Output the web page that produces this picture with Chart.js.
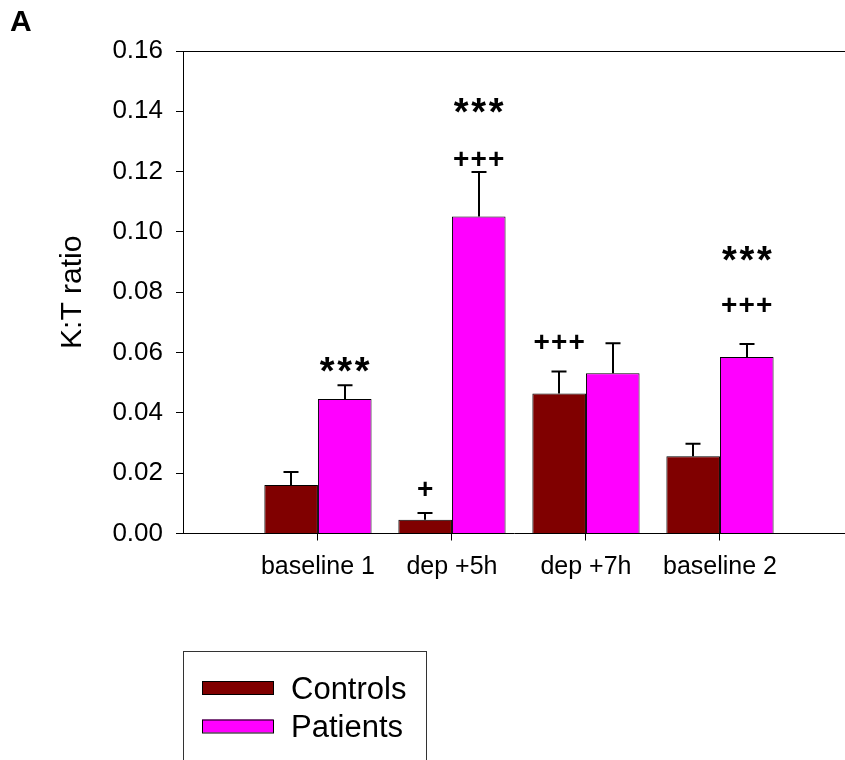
<!DOCTYPE html>
<html>
<head>
<meta charset="utf-8">
<script src="https://cdn.jsdelivr.net/npm/chart.js@4.4.1/dist/chart.umd.min.js"></script>
<style>
  html, body { margin: 0; padding: 0; background: #fff; }
  #wrap { width: 845px; height: 760px; position: relative; }
</style>
</head>
<body>
<div id="wrap"><canvas id="c" width="845" height="760"></canvas></div>
<script>
// ---- data ----
const categories = ['baseline 1', 'dep +5h', 'dep +7h', 'baseline 2'];
const seriesNames = ['Controls', 'Patients'];
const controls    = [0.0161, 0.0046, 0.0464, 0.0256];
const controlsErr = [0.0043, 0.0022, 0.0073, 0.0042];
const patients    = [0.0446, 0.1051, 0.0531, 0.0585];
const patientsErr = [0.0046, 0.0148, 0.0100, 0.0043];
const yTicks = [0, 0.02, 0.04, 0.06, 0.08, 0.10, 0.12, 0.14, 0.16];
// significance marks (text, and the value level where each sits)
const controlsMarks  = [[], ['+'], ['+++'], []];
const controlsMarkY  = [[], [0.0148], [0.0638], []];
const patientsMarks  = [['***'], ['+++', '***'], [], ['+++', '***']];
const patientsMarkY  = [[0.0559], [0.1242, 0.1420], [], [0.0761, 0.0929]];

const FONT = '"Liberation Sans", Arial, Helvetica, sans-serif';
const C_CTRL = '#800000';
const C_PAT = '#FF00FF';

const errs = [controlsErr, patientsErr];
const marks = [controlsMarks, patientsMarks];
const markY = [controlsMarkY, patientsMarkY];

const extrasPlugin = {
  id: 'extras',
  afterDatasetsDraw(chart) {
    const ctx = chart.ctx;
    const y = chart.scales.y;
    const area = chart.chartArea;
    ctx.save();
    // top frame line
    ctx.strokeStyle = '#000';
    ctx.lineWidth = 1;
    ctx.beginPath();
    ctx.moveTo(area.left, Math.round(area.top) + 0.5);
    ctx.lineTo(area.right, Math.round(area.top) + 0.5);
    ctx.stroke();
    // error bars (upper only)
    ctx.lineWidth = 2;
    chart.data.datasets.forEach((ds, d) => {
      const meta = chart.getDatasetMeta(d);
      meta.data.forEach((bar, i) => {
        const v = ds.data[i].y;
        const top = y.getPixelForValue(v + errs[d][i]);
        const x = Math.round(bar.x);
        ctx.beginPath();
        ctx.moveTo(x, bar.y);
        ctx.lineTo(x, top);
        ctx.moveTo(x - 7.5, top);
        ctx.lineTo(x + 7.5, top);
        ctx.stroke();
      });
    });
    // significance marks
    ctx.fillStyle = '#000';
    ctx.textAlign = 'center';
    ctx.textBaseline = 'alphabetic';
    chart.data.datasets.forEach((ds, d) => {
      const meta = chart.getDatasetMeta(d);
      meta.data.forEach((bar, i) => {
        marks[d][i].forEach((txt, k) => {
          const yc = y.getPixelForValue(markY[d][i][k]);
          const isStar = txt[0] === '*';
          ctx.font = 'bold ' + (isStar ? 38 : 28) + 'px ' + FONT;
          const m = ctx.measureText(txt[0]);
          const yb = yc + (m.actualBoundingBoxAscent - m.actualBoundingBoxDescent) / 2;
          const step = 17.5;
          const n = txt.length;
          for (let j = 0; j < n; j++) {
            const cx = bar.x + (j - (n - 1) / 2) * step;
            ctx.fillText(txt[j], cx, yb);
          }
        });
      });
    });
    ctx.restore();
  },
  afterDraw(chart) {
    const ctx = chart.ctx;
    ctx.save();
    // panel letter
    ctx.fillStyle = '#000';
    ctx.font = 'bold 30px ' + FONT;
    ctx.textAlign = 'left';
    ctx.textBaseline = 'alphabetic';
    ctx.fillText('A', 10, 31);
    // legend box
    ctx.strokeStyle = '#333';
    ctx.lineWidth = 1;
    ctx.strokeRect(183.5, 651.5, 243, 200);
    chart.data.datasets.forEach((ds, d) => {
      const top = 681 + d * 38.5;
      ctx.fillStyle = ds.backgroundColor;
      ctx.fillRect(202, top, 71, 13);
      ctx.strokeStyle = '#000';
      ctx.strokeRect(202.5, top + 0.5, 71, 13);
      ctx.fillStyle = '#000';
      ctx.font = '31px ' + FONT;
      ctx.fillText(ds.label, 291, top + 17.5);
    });
    ctx.restore();
  }
};

new Chart(document.getElementById('c'), {
  type: 'bar',
  data: {
    datasets: [
      { label: seriesNames[0], data: controls.map((v, i) => ({ x: i, y: v })),
        backgroundColor: C_CTRL, borderColor: '#000', borderWidth: 1,
        categoryPercentage: 0.8, barPercentage: 1.0 },
      { label: seriesNames[1], data: patients.map((v, i) => ({ x: i, y: v })),
        backgroundColor: C_PAT, borderColor: '#000', borderWidth: 1,
        categoryPercentage: 0.8, barPercentage: 1.0 }
    ]
  },
  options: {
    responsive: false,
    animation: false,
    layout: { padding: { left: 0, top: 51, right: 0, bottom: 166.5 } },
    plugins: { legend: { display: false }, tooltip: { enabled: false } },
    scales: {
      x: {
        type: 'linear', min: -1.007, max: 3.933, offset: false,
        afterBuildTicks: s => { s.ticks = categories.map((_, i) => ({ value: i })); },
        afterFit: s => { s.height = 60; },
        ticks: { callback: v => categories[v] ?? '', font: { size: 25, family: FONT },
                 color: '#000', padding: 12, maxRotation: 0, autoSkip: false },
        grid: { offset: false, drawOnChartArea: false, drawTicks: true, tickLength: 7, color: '#000', lineWidth: 1 },
        border: { display: true, color: '#000', width: 1 }
      },
      y: {
        min: 0, max: 0.16,
        afterBuildTicks: s => { s.ticks = yTicks.map(v => ({ value: v })); },
        afterFit: s => { s.width = 183; },
        ticks: { callback: v => v.toFixed(2), font: { size: 26, family: FONT }, color: '#000', padding: 13 },
        grid: { drawOnChartArea: false, drawTicks: true, tickLength: 7, color: '#000', lineWidth: 1 },
        border: { display: true, color: '#000', width: 1 },
        title: { display: true, text: 'K:T ratio', color: '#000',
                 font: { size: 30, family: FONT }, padding: { top: 55 } }
      }
    }
  },
  plugins: [extrasPlugin]
});
</script>
</body>
</html>
